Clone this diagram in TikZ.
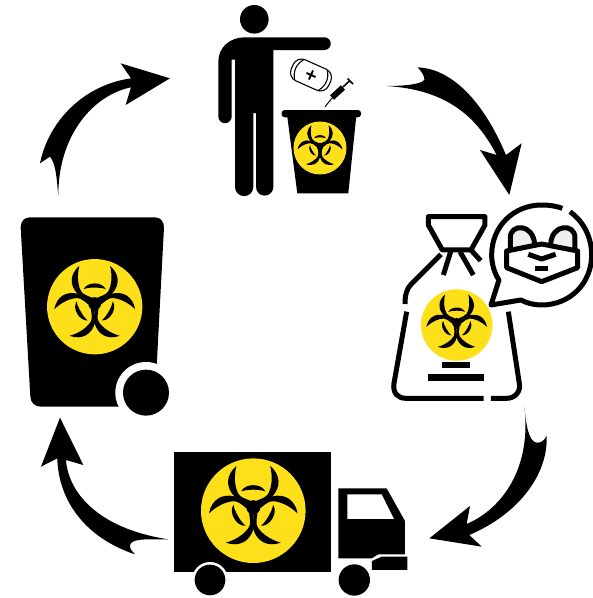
\documentclass[tikz,border=0pt]{standalone}
\usepackage{tikz}
\definecolor{hazyellow}{HTML}{FDE01A}
\definecolor{earfill}{HTML}{EFEFEF}
\tikzset{
  ink/.style={fill=black,draw=none},
  blank/.style={fill=white,draw=none},
  bagline/.style={draw=black,line width=5pt,line join=round,fill=none},
  thinline/.style={draw=black,line width=1.1pt,fill=none,line join=round},
  biohazard/.pic={
    \fill[hazyellow] (0,0) circle[radius=155];
    \begin{scope}[shift={(0,-10)}]
      \foreach \a in {0,120,240}{
        \begin{scope}[rotate=\a]
          \fill[black] (-50,-123) .. controls (-82,-95) and (-82,-60) .. (-56,-32) -- (0,0) -- (-10,-20) .. controls (-25,-26) and (-38,-30) .. (-44,-40) .. controls (-55,-60) and (-58,-90) .. cycle;
          \fill[black] (50,-123) .. controls (82,-95) and (82,-60) .. (56,-32) -- (0,0) -- (10,-20) .. controls (25,-26) and (38,-30) .. (44,-40) .. controls (55,-60) and (58,-90) .. cycle;
          \fill[black] (-36,-47) .. controls (-24,-72) and (24,-72) .. (36,-47) .. controls (20,-54) and (-20,-54) .. cycle;
        \end{scope}
      }
      \fill[black] (0,0) circle[radius=21];
    \end{scope}
  }
}
\begin{document}
\begin{tikzpicture}[x=1pt,y=-1pt]
\useasboundingbox (0,0) rectangle (593,598);
\clip (0,0) rectangle (593,598);
\fill[white] (0,0) rectangle (593,598);

% person
\fill[black] (254.3,19.3) circle[radius=14.3];
\fill[black] (324.4,37.3) arc[start angle=-90,end angle=90,radius=6.35] -- (273.3,50) -- (273.3,187) arc[start angle=0,end angle=180,radius=8.65] -- (256,113) -- (253.3,113) -- (253.3,187) arc[start angle=0,end angle=180,radius=9.15] -- (235,59.5) -- (231.7,59.5) -- (231.7,116.5) arc[start angle=0,end angle=180,radius=6.7] -- (218.3,62) .. controls (218.3,47) and (230,37.3) .. (245,37.3) -- cycle;

% small bin
\fill[black,rounded corners=3pt] (281.7,110) rectangle (361,117.3);
\fill[black] (286.7,112) -- (356.7,112) -- (348.3,193.3) -- (297.3,193.3) -- cycle;
\pic[scale=0.171] at (320,148) {biohazard};

% mask in the air
\begin{scope}[shift={(311,75)},rotate=-24]
  \draw[thinline,rounded corners=9pt] (-20.5,-11.5) rectangle (20.5,11.5);
  \draw[thinline] (-13,-11) .. controls (-18,-4) and (-18,4) .. (-13,11);
  \draw[thinline] (13,-11) .. controls (18,-4) and (18,4) .. (13,11);
  \draw[black,line width=1.9pt] (-5,0) -- (5,0) (0,-5) -- (0,5);
\end{scope}
% syringe
\draw[black,line width=1pt] (325,106.7) -- (333,97);
\draw[black,line width=6pt] (332,97.5) -- (343,87.5);
\draw[black,line width=1.6pt] (343,87) -- (350,80.5);
\draw[black,line width=1.6pt] (347.5,78.5) -- (353,84);

% bag
\begin{scope}[shift={(385,195)},scale=0.3333]
  \draw[bagline] (130,65) -- (300,65) -- (300,90) -- (258,165) -- (172,165) -- (130,90) -- cycle;
  \draw[bagline] (197,170) -- (175,240);
  \draw[bagline] (225,170) -- (265,240);
  \draw[bagline] (258,165) -- (287,197);
  \draw[bagline] (168,178) -- (78,268) .. controls (65,282) and (60,300) .. (60,327);
  \draw[bagline] (65,350) -- (27,565) .. controls (22,595) and (40,610) .. (62,610) -- (296,610);
  \draw[bagline] (318,610) -- (365,610) .. controls (390,610) and (408,590) .. (403,565) -- (370,350);
  \fill[black] (172,500) rectangle (255,519);
  \fill[black] (130,538) rectangle (297,558);
  % speech bubble
  \draw[bagline] (532,40) .. controls (510,32) and (490,30) .. (470,30) .. controls (385,30) and (320,95) .. (320,180) .. controls (320,205) and (328,235) .. (342,255) -- (318,330) -- (408,315) .. controls (425,325) and (450,330) .. (470,330) .. controls (555,330) and (620,265) .. (620,180) .. controls (620,120) and (590,75) .. (555,50);
  \filldraw[bagline,fill=earfill] (376,165) -- (376,128) .. controls (376,85) and (445,85) .. (449,148);
  \filldraw[bagline,fill=earfill] (497,148) .. controls (500,85) and (570,85) .. (570,128) -- (570,165);
  \fill[white] (365,168) -- (470,147) -- (578,168) -- (578,218) -- (470,260) -- (365,218) -- cycle;
  \draw[bagline] (365,168) -- (470,147) -- (578,168) -- (578,218) -- (470,260) -- (365,218) -- cycle;
  \draw[bagline] (430,178) -- (470,192) -- (512,178);
  \fill[black] (450,212) rectangle (490,229);
\end{scope}
\pic[scale=0.2305] at (456.7,325) {biohazard};

% truck
\begin{scope}[shift={(165,445)},scale=0.3333]
  \fill[black] (28,20) rectangle (498,382);
  \fill[white] (135,405) circle[radius=54];
  \fill[black] (135,405) circle[radius=46];
  \fill[black] (520,130) -- (665,130) -- (720,228) -- (720,328) -- (640,328) -- (620,340) -- (520,340) -- cycle;
  \fill[white] (547,148) -- (650,148) -- (687,222) -- (547,222) -- cycle;
  \fill[black] (621,348) -- (650,335) -- (727,335) -- (727,375) -- (621,375) -- cycle;
  \fill[black] (568,405) circle[radius=47];
\end{scope}
\pic[scale=0.3375] at (253.3,510.7) {biohazard};

% wheeled bin
\begin{scope}[shift={(10,210)},scale=0.3333]
  \fill[black] (32,52) .. controls (32,32) and (45,22) .. (60,22) -- (435,22) .. controls (452,22) and (462,35) .. (462,52) -- (440,470) -- (340,590) -- (92,590) .. controls (75,590) and (62,578) .. (61,560) -- cycle;
  \fill[white] (408,548) circle[radius=92];
  \fill[black] (408,548) circle[radius=69];
\end{scope}
\pic[scale=0.3075] at (94.7,306.7) {biohazard};

% arrows
\begin{scope}[shift={(380,60)},scale=0.3333]
  \fill[black] (20,78) .. controls (60,78) and (120,75) .. (133,60) .. controls (135,50) and (125,35) .. (113,22) .. controls (200,25) and (300,100) .. (378,285) -- (425,250) -- (388,405) -- (300,270) -- (350,285) .. controls (300,190) and (220,90) .. (20,78) -- cycle;
\end{scope}
\begin{scope}[shift={(420,400)},scale=0.3333]
  \fill[black] (313,20) .. controls (318,70) and (325,125) .. (350,128) .. controls (365,130) and (375,118) .. (380,107) .. controls (385,220) and (300,340) .. (148,405) -- (185,440) -- (28,415) -- (150,318) -- (140,372) .. controls (250,325) and (335,200) .. (313,20) -- cycle;
\end{scope}
\begin{scope}[shift={(30,405)},scale=0.3333]
  \fill[black] (415,403) .. controls (350,403) and (305,400) .. (300,420) .. controls (298,432) and (308,440) .. (315,448) .. controls (170,400) and (85,290) .. (82,160) -- (33,185) -- (90,38) -- (160,180) -- (108,165) .. controls (115,260) and (200,370) .. (415,403) -- cycle;
\end{scope}
\begin{scope}[shift={(30,55)},scale=0.3333]
  \fill[black] (85,420) .. controls (80,380) and (80,330) .. (60,305) -- (30,325) .. controls (55,200) and (160,90) .. (303,70) -- (272,25) -- (420,70) -- (287,150) -- (303,97) .. controls (190,120) and (85,240) .. (85,420) -- cycle;
\end{scope}
\end{tikzpicture}
\end{document}
